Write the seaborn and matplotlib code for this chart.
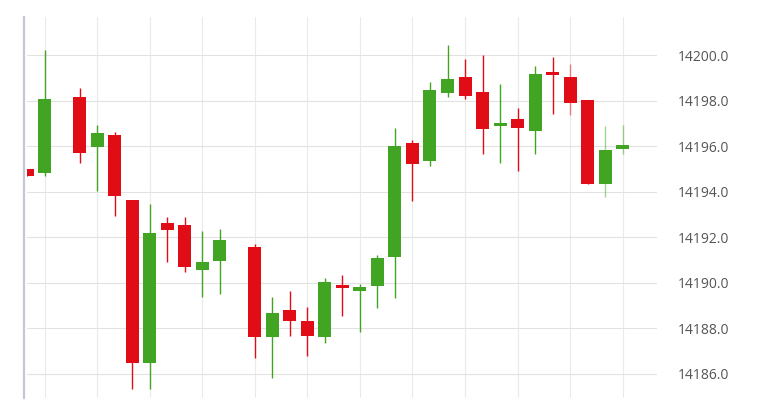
"""Intraday candlestick chart, price axis on the right."""

import matplotlib

matplotlib.use("Agg")
import matplotlib.pyplot as plt
import numpy as np
import pandas as pd
import seaborn as sns

# minute slots (slots 2 and 12 have no trades)
minute = [0, 1, 3, 4, 5, 6, 7, 8, 9, 10, 11, 13, 14, 15, 16, 17, 18,
          19, 20, 21, 22, 23, 24, 25, 26, 27, 28, 29, 30, 31, 32, 33, 34]
open_ = [14195.00, 14194.82, 14198.15, 14195.96, 14196.50, 14193.62, 14186.49,
         14192.63, 14192.53, 14190.57, 14190.96, 14191.58, 14187.64, 14188.81,
         14188.33, 14187.64, 14189.91, 14189.66, 14189.88, 14191.15, 14196.15,
         14195.37, 14198.33, 14199.06, 14198.37, 14196.91, 14197.20, 14196.69,
         14199.27, 14199.05, 14198.04, 14194.36, 14195.90]
high = [14195.00, 14200.22, 14198.55, 14196.94, 14196.62, 14193.64, 14193.47,
        14192.90, 14192.90, 14192.27, 14192.37, 14191.71, 14189.38, 14189.64,
        14188.94, 14190.22, 14190.35, 14189.95, 14191.23, 14196.81, 14196.28,
        14198.83, 14200.47, 14199.85, 14200.01, 14198.74, 14197.68, 14199.53,
        14199.93, 14199.62, 14198.04, 14196.89, 14196.95]
low = [14194.70, 14194.68, 14195.27, 14194.05, 14192.95, 14185.33, 14185.33,
       14190.92, 14190.49, 14189.38, 14189.53, 14186.71, 14185.83, 14187.68,
       14186.77, 14187.37, 14188.56, 14187.83, 14188.91, 14189.32, 14193.60,
       14195.15, 14198.15, 14198.07, 14195.65, 14195.27, 14194.93, 14195.68,
       14197.42, 14197.36, 14194.36, 14193.79, 14195.68]
close = [14194.70, 14198.08, 14195.71, 14196.59, 14193.83, 14186.49, 14192.18,
         14192.32, 14190.71, 14190.91, 14191.88, 14187.64, 14188.68, 14188.34,
         14187.68, 14190.05, 14189.78, 14189.83, 14191.11, 14196.01, 14195.22,
         14198.48, 14198.96, 14198.22, 14196.75, 14197.03, 14196.79, 14199.17,
         14199.12, 14197.92, 14194.36, 14195.84, 14196.05]
price_ticks = [14186, 14188, 14190, 14192, 14194, 14196, 14198, 14200]

UP = "#41a422"
DOWN = "#e00d17"
FADED = {31, 33, 34}  # last wicks are still fading in

sns.set_theme(style="whitegrid")
plt.rcParams["font.family"] = ["Open Sans", "DejaVu Sans"]

df = pd.DataFrame({"minute": minute, "open": open_, "high": high,
                   "low": low, "close": close})
df["up"] = df["close"] >= df["open"]
df["color"] = np.where(df["up"], UP, DOWN)

fig = plt.figure(figsize=(7.66, 4.08), dpi=100)
ax = fig.add_axes([27 / 766, 10 / 408, (656.7 - 27) / 766, 381 / 408])

wick_alpha = [0.5 if m in FADED else 1.0 for m in df["minute"]]
for row, alpha in zip(df.itertuples(), wick_alpha):
    ax.vlines(row.minute, row.low, row.high, color=row.color, lw=1.0,
              alpha=alpha, zorder=2)

body_lo = df[["open", "close"]].min(axis=1)
body_h = (df["close"] - df["open"]).abs()
ax.bar(df["minute"], body_h, bottom=body_lo, width=0.742,
       color=df["color"], linewidth=0, zorder=3)

ax.set_xlim(0, 35.94)
ax.set_ylim(14184.94, 14201.68)
ax.set_xticks(range(1, 35, 3))
ax.set_xticklabels([])
ax.set_yticks(price_ticks)
ax.set_yticklabels([f"{v:.1f}" for v in price_ticks])
ax.yaxis.tick_right()
ax.tick_params(axis="y", length=0, pad=15.5, labelsize=10, labelcolor="#555555")
ax.tick_params(axis="x", length=0)

ax.set_axisbelow(True)
ax.grid(axis="y", color="#e2e2e2", lw=0.8)
ax.grid(axis="x", color="#eaeaea", lw=0.8)
ax.set_facecolor("white")
for side in ("top", "right", "bottom"):
    ax.spines[side].set_visible(False)
ax.spines["left"].set_color("#c3c7d6")
ax.spines["left"].set_linewidth(1.6)
ax.spines["left"].set_position(("outward", 2.4))

fig.savefig("out.png", dpi=100)
